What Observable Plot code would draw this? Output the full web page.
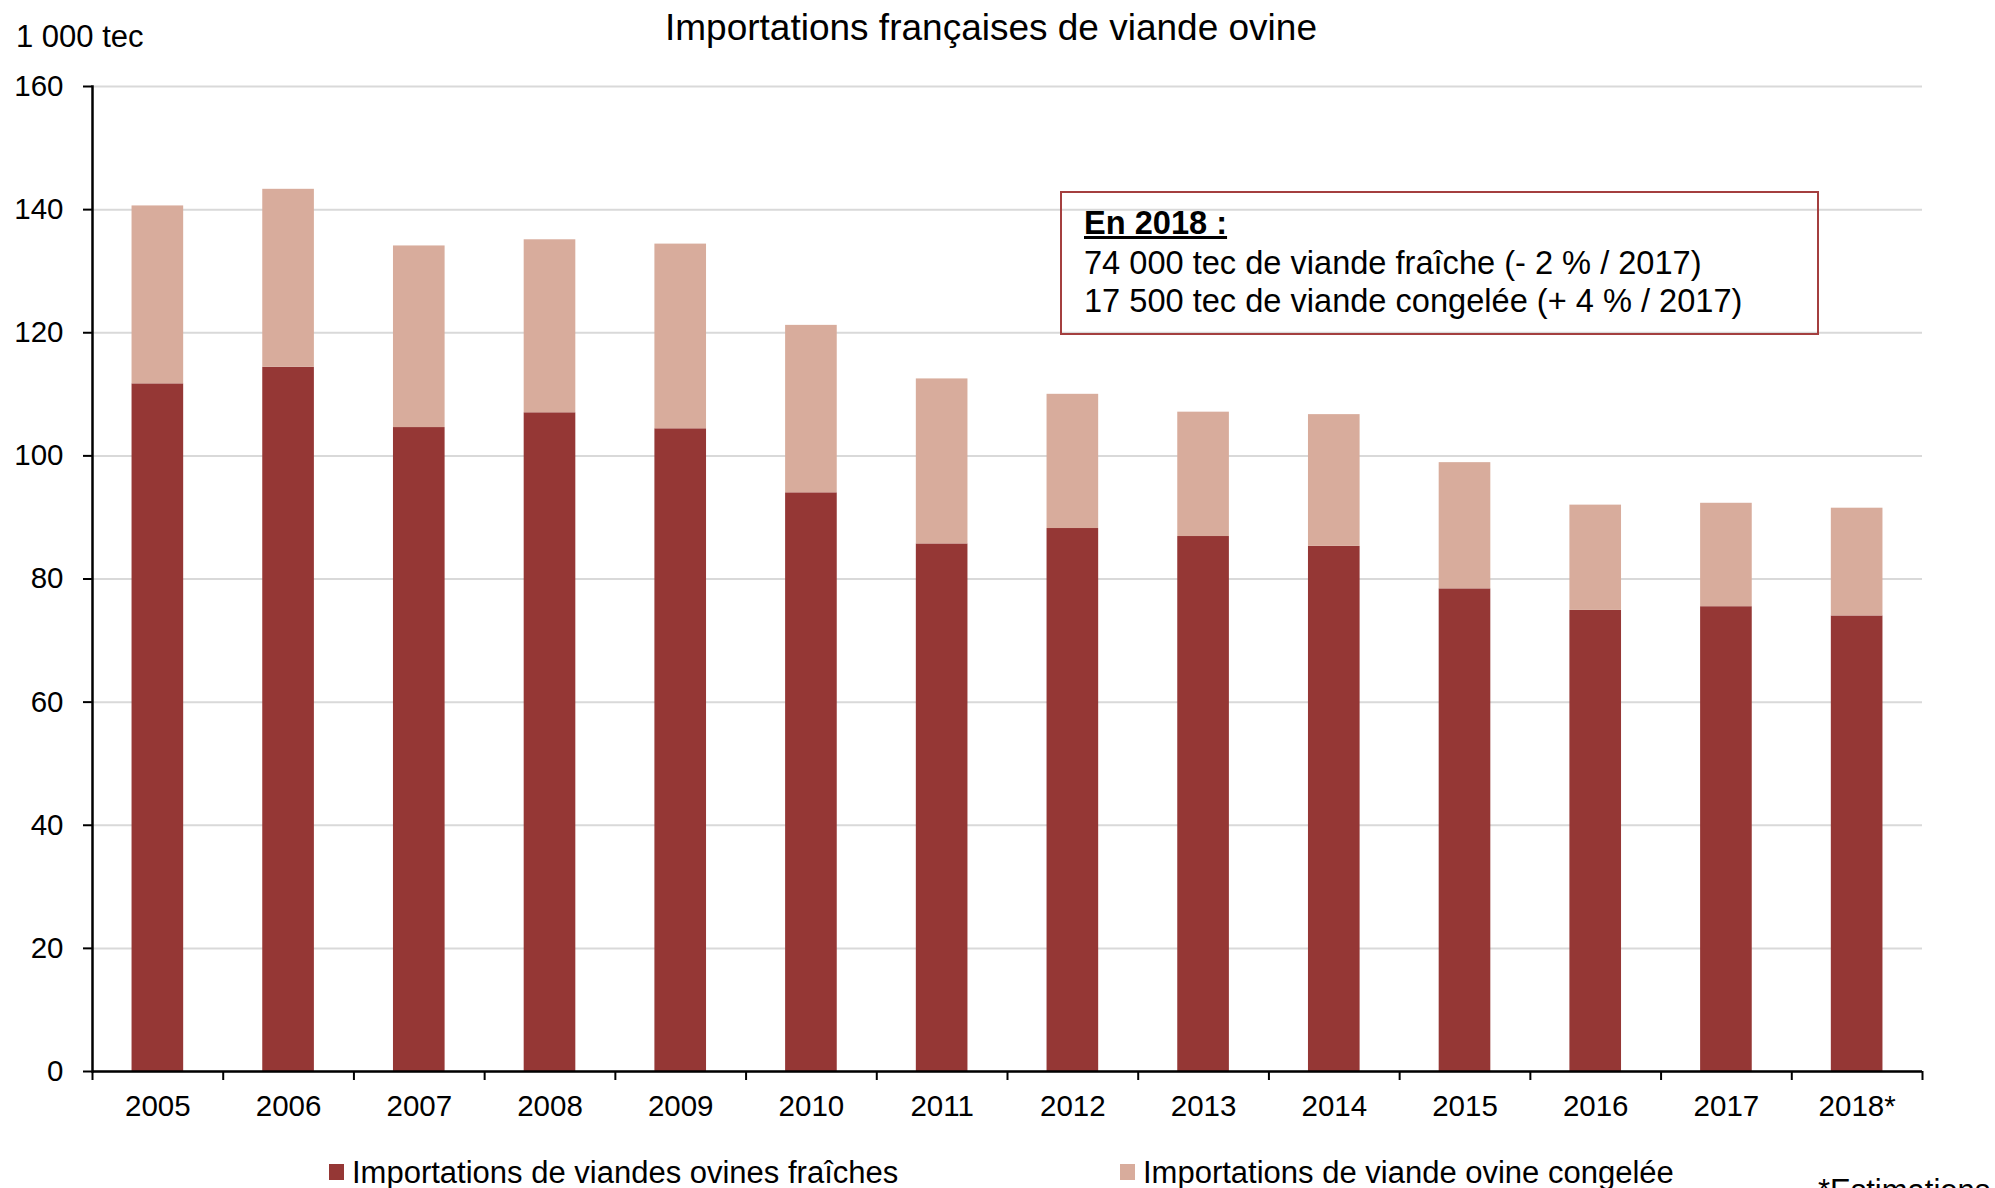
<!DOCTYPE html>
<html>
<head>
<meta charset="utf-8">
<script src="https://cdn.jsdelivr.net/npm/d3@7"></script>
<script src="https://cdn.jsdelivr.net/npm/@observablehq/plot@0.6"></script>
<style>
  html, body { margin: 0; padding: 0; background: #fff; }
  body { width: 1995px; height: 1188px; overflow: hidden; position: relative;
         font-family: "Liberation Sans", Arial, sans-serif; color: #000; }
  .abs { position: absolute; white-space: nowrap; line-height: 1; }
  #chart { position: absolute; left: 0; top: 0; }
  #title { left: 0; width: 1982px; text-align: center; top: 9px; font-size: 37px; }
  #unit { left: 16px; top: 21px; font-size: 31px; }
  #note { left: 1060px; top: 191px; width: 755px; height: 140px; border: 2px solid #a43f3f; }
  .noteLine { left: 1084px; font-size: 32.6px; }
  .noteHead { font-weight: bold; text-decoration: underline; }
  .legSwatch { position: absolute; width: 15px; height: 16px; top: 1164px; }
  .legText { top: 1157px; font-size: 31px; }
  #foot { left: 1818px; top: 1175px; font-size: 31px; }
</style>
</head>
<body>
<div id="chart"></div>
<script>
// ---- data ----
const years = ["2005","2006","2007","2008","2009","2010","2011","2012","2013","2014","2015","2016","2017","2018*"];
const fresh  = [111.7, 114.4, 104.6, 107.0, 104.4, 94.0, 85.7, 88.2, 86.9, 85.3, 78.4, 74.9, 75.5, 74.0];
const frozen = [ 28.9,  28.9,  29.5,  28.1,  30.0, 27.2, 26.8, 21.8, 20.2, 21.4, 20.5, 17.1, 16.8, 17.5];
const seriesNames  = ["Importations de viandes ovines fraîches", "Importations de viande ovine congelée"];
const seriesColors = ["#953735", "#d8ac9c"];
const yTicks = [0, 20, 40, 60, 80, 100, 120, 140, 160];
const titleText = "Importations françaises de viande ovine";
const unitText = "1 000 tec";
const noteLines = ["En 2018 :", "74 000 tec de viande fraîche (- 2 % / 2017)", "17 500 tec de viande congelée (+ 4 % / 2017)"];
const footText = "*Estimations";

// ---- layout ----
const W = 1995, H = 1130;
const mL = 92, mR = 73, mT = 86, mB = 59;
const step = (W - mL - mR) / years.length;

const data = [];
years.forEach((yr, i) => {
  data.push({year: yr, type: seriesNames[0], value: fresh[i]});
  data.push({year: yr, type: seriesNames[1], value: frozen[i]});
});

const chart = Plot.plot({
  width: W, height: H,
  marginLeft: mL, marginRight: mR, marginTop: mT, marginBottom: mB,
  style: {fontFamily: "'Liberation Sans', Arial, sans-serif", fontSize: "29px", color: "#000", background: "transparent", overflow: "visible"},
  x: {domain: years, paddingInner: 0.605, paddingOuter: 0.3025, round: false, axis: null, label: null},
  y: {domain: [0, 160], axis: null, label: null},
  color: {domain: seriesNames, range: seriesColors},
  marks: [
    Plot.gridY(yTicks, {stroke: "#d9d9d9", strokeOpacity: 1, strokeWidth: 2}),
    Plot.barY(data, {x: "year", y: "value", fill: "type"}),
    Plot.ruleY([0], {stroke: "#000", strokeWidth: 2.5}),
    Plot.frame({anchor: "left", stroke: "#000", strokeWidth: 2.5}),
    Plot.axisY(yTicks, {tickSize: 9, tickPadding: 20, stroke: "#000", strokeWidth: 2, fontSize: 29.5, label: null}),
    Plot.axisX(years, {tickSize: 0, tickPadding: 24, fontSize: 29.5, label: null}),
    Plot.ruleX(years, {x: d => d, y1: 0, y2: 0, dx: -step / 2, insetBottom: -9, stroke: "#000", strokeWidth: 2}),
    Plot.ruleX([years[years.length - 1]], {x: d => d, y1: 0, y2: 0, dx: step / 2, insetBottom: -9, stroke: "#000", strokeWidth: 2})
  ]
});
document.getElementById("chart").appendChild(chart);

// ---- texts ----
function addDiv(cls, id, text, style) {
  const d = document.createElement("div");
  d.className = cls;
  if (id) d.id = id;
  if (text != null) d.textContent = text;
  if (style) Object.assign(d.style, style);
  document.body.appendChild(d);
  return d;
}
addDiv("abs", "title", titleText);
addDiv("abs", "unit", unitText);
addDiv("abs", "note", null);
const noteTops = [207.4, 247.4, 285.4];
noteLines.forEach((t, i) => addDiv("abs noteLine" + (i === 0 ? " noteHead" : ""), null, t, {top: noteTops[i] + "px"}));

const legSwatchX = [329, 1120];
const legTextX = [352, 1143];
seriesNames.forEach((n, i) => {
  addDiv("legSwatch", null, null, {left: legSwatchX[i] + "px", background: seriesColors[i]});
  addDiv("abs legText", null, n, {left: legTextX[i] + "px"});
});
addDiv("abs", "foot", footText);
</script>
</body>
</html>
